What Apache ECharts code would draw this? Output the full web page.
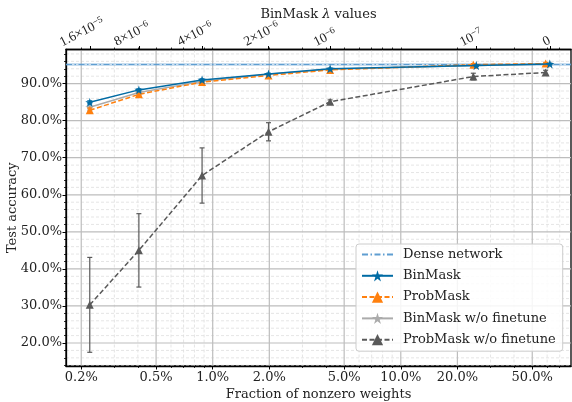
<!DOCTYPE html>
<html><head><meta charset="utf-8">
<script src="https://cdn.jsdelivr.net/npm/echarts@6/dist/echarts.min.js"></script>
<style>html,body{margin:0;padding:0;background:#fff}#c{width:572px;height:402px}</style>
</head><body><div id="c"></div>
<script>
// ---------- data ----------
const fracBinMask = [0.222, 0.405, 0.878, 1.98, 4.21, 25.2, 62.0];
const accBinMask = [84.96, 88.3, 91.0, 92.6, 94.0, 94.85, 95.3];
const errBinMask = [0.4, 0.3, 0.3, 0.2, 0.2, 0.2, 0.2];

const fracProbMask = [0.222, 0.405, 0.878, 1.98, 4.21, 24.3, 58.9];
const accProbMask = [82.8, 87.1, 90.4, 92.2, 93.7, 95.1, 95.4];
const errProbMask = [0.6, 0.4, 0.3, 0.3, 0.3, 0.3, 0.3];

const fracBinNoFt = [0.222, 0.405, 0.878, 1.98, 4.21, 25.2, 62.0];
const accBinNoFt = [83.6, 87.6, 90.6, 92.5, 93.9, 94.85, 95.3];
const errBinNoFt = [0.4, 0.3, 0.3, 0.2, 0.2, 0.2, 0.2];

const fracProbNoFt = [0.222, 0.405, 0.878, 1.98, 4.21, 24.3, 58.9];
const accProbNoFt = [30.3, 45.0, 65.2, 77.0, 85.1, 91.9, 93.0];
const errProbNoFt = [12.8, 9.9, 7.45, 2.45, 0.5, 0.9, 0.6];

const denseAcc = 95.15;
const denseStd = 0.4;

const xTickValues = [0.2, 0.5, 1, 2, 5, 10, 20, 50];
const xTickLabels = ['0.2%', '0.5%', '1.0%', '2.0%', '5.0%', '10.0%', '20.0%', '50.0%'];
const xMinorValues = [0.3, 0.4, 0.6, 0.7, 0.8, 0.9, 3, 4, 6, 7, 8, 9, 30, 40, 60, 70];
const lambdaMantissa = ['1.6×10', '8×10', '4×10', '2×10', '10', '10', '0'];
const lambdaExponent = ['−5', '−6', '−6', '−6', '−6', '−7', ''];

const yTickValues = [20, 30, 40, 50, 60, 70, 80, 90];
const yTickLabels = ['20.0%', '30.0%', '40.0%', '50.0%', '60.0%', '70.0%', '80.0%', '90.0%'];
const yMinorValues = [14, 16, 18, 22, 24, 26, 28, 32, 34, 36, 38, 42, 44, 46, 48, 52, 54, 56, 58, 62, 64, 66, 68, 72, 74, 76, 78, 82, 84, 86, 88, 92, 94, 96, 98];

// ---------- layout / style ----------
const X_MIN = -0.78, X_MAX = 1.905;
const Y_MIN = 13.8, Y_MAX = 99.2;
const FONT = 'DejaVu Serif';
const LFONT = 'Liberation Serif';
const C_BIN = '#006BA4', C_PROB = '#FF800E', C_BINNF = '#ABABAB', C_PROBNF = '#595959', C_DENSE = '#5F9ED1';
const STAR = 'path://M50,0 L61.17,34.63 L97.55,34.55 L68.07,55.87 L79.39,90.45 L50,69 L20.61,90.45 L31.93,55.87 L2.45,34.55 L38.83,34.63 Z';
// spacer (px) that lifts each rotated top label so all rotated boxes share one bottom line
const LAMBDA_LIFT = [10, 8, 8, 8, 4, 4, 0];
const lg = v => Math.log10(v);

function labelFrom(values, labels) {
  return function (v) {
    for (let i = 0; i < values.length; i++) if (Math.abs(values[i] - v) < 1e-6) return labels[i];
    return '';
  };
}
const lambdaLabels = lambdaMantissa.map((m, i) =>
  '{b|' + m + '}' + (lambdaExponent[i] ? '{sup|' + lambdaExponent[i] + '}' : '') +
  (LAMBDA_LIFT[i] ? '\n{g' + LAMBDA_LIFT[i] + '| }' : ''));
const liftRich = {};
LAMBDA_LIFT.forEach(h => { if (h) liftRich['g' + h] = { fontSize: 1, lineHeight: h, height: h }; });

function vLines(values, style) {
  return {
    type: 'custom', silent: true, z: 0, xAxisIndex: 0, yAxisIndex: 0,
    data: values.map(v => [lg(v), Y_MIN]), encode: { x: 0, y: 1 },
    renderItem: (params, api) => {
      const cs = params.coordSys;
      const x = api.coord([api.value(0), api.value(1)])[0];
      return { type: 'line', shape: { x1: x, y1: cs.y, x2: x, y2: cs.y + cs.height }, style };
    }
  };
}
function hLines(values, style) {
  return {
    type: 'custom', silent: true, z: 0, xAxisIndex: 0, yAxisIndex: 0,
    data: values.map(v => [X_MIN, v]), encode: { x: 0, y: 1 },
    renderItem: (params, api) => {
      const cs = params.coordSys;
      const y = api.coord([api.value(0), api.value(1)])[1];
      return { type: 'line', shape: { x1: cs.x, y1: y, x2: cs.x + cs.width, y2: y }, style };
    }
  };
}
function errorBars(fr, acc, err, color, z) {
  return {
    type: 'custom', silent: true, z, xAxisIndex: 0, yAxisIndex: 0,
    data: fr.map((f, i) => [lg(f), acc[i] - err[i], acc[i] + err[i]]),
    encode: { x: 0, y: [1, 2] },
    renderItem: (params, api) => {
      const lo = api.coord([api.value(0), api.value(1)]);
      const hi = api.coord([api.value(0), api.value(2)]);
      const w = 2.5;
      const style = { stroke: color, lineWidth: 1.2 };
      return {
        type: 'group', children: [
          { type: 'line', shape: { x1: lo[0], y1: lo[1], x2: hi[0], y2: hi[1] }, style },
          { type: 'line', shape: { x1: lo[0] - w, y1: lo[1], x2: lo[0] + w, y2: lo[1] }, style },
          { type: 'line', shape: { x1: hi[0] - w, y1: hi[1], x2: hi[0] + w, y2: hi[1] }, style }
        ]
      };
    }
  };
}
function lineSeries(name, fr, acc, color, dashed, symbol, size, z) {
  return {
    type: 'line', name, z, xAxisIndex: 0, yAxisIndex: 0,
    data: fr.map((f, i) => [lg(f), acc[i]]),
    symbol, symbolSize: size, showSymbol: true,
    lineStyle: { color, width: 1.5, type: dashed ? [5, 2.5] : 'solid' },
    itemStyle: { color, borderWidth: 0 },
    emphasis: { disabled: true }, animation: false
  };
}

const axisLabelStyle = { fontFamily: FONT, fontSize: 13, color: '#222' };
const baseX = {
  type: 'value', min: X_MIN, max: X_MAX, gridIndex: 0,
  splitLine: { show: false },
  axisLine: { show: true, onZero: false, lineStyle: { color: '#000', width: 1.3 } }
};

const option = {
  animation: false,
  backgroundColor: '#fff',
  grid: { left: 66, top: 49.5, right: 1, bottom: 36, show: true, borderColor: '#000', borderWidth: 1.3, containLabel: false, outerBoundsMode: 'none' },
  legend: {
    data: [
      { name: 'Dense network', itemStyle: { opacity: 0 } },
      'BinMask', 'ProbMask', 'BinMask w/o finetune', 'ProbMask w/o finetune'
    ],
    orient: 'vertical', left: 356, top: 244,
    itemWidth: 31, itemHeight: 14, itemGap: 8.3,
    padding: [4, 7, 5, 5],
    backgroundColor: 'rgba(255,255,255,0.85)', borderColor: '#cccccc', borderWidth: 1, borderRadius: 3,
    textStyle: { fontFamily: FONT, fontSize: 13, color: '#222', padding: [0, 0, 0, 5] },
    selectedMode: false
  },
  xAxis: [
    Object.assign({}, baseX, {
      position: 'bottom',
      name: 'Fraction of nonzero weights', nameLocation: 'middle', nameGap: 22, nameMoveOverlap: false,
      nameTextStyle: { fontFamily: FONT, fontSize: 13, color: '#222' },
      axisTick: { show: true, length: 3.5, customValues: xTickValues.map(lg), lineStyle: { color: '#000' } },
      axisLabel: Object.assign({ customValues: xTickValues.map(lg), margin: 5, interval: 0, hideOverlap: false, formatter: labelFrom(xTickValues.map(lg), xTickLabels) }, axisLabelStyle)
    }),
    Object.assign({}, baseX, {
      position: 'top',
      name: 'BinMask {i|λ} values', nameLocation: 'middle', nameGap: 28, nameMoveOverlap: false,
      nameTextStyle: { fontFamily: FONT, fontSize: 13, color: '#222', rich: { i: { fontFamily: FONT, fontSize: 13, fontStyle: 'italic', color: '#222' } } },
      axisTick: { show: true, length: 3.5, customValues: fracBinMask.map(lg), lineStyle: { color: '#000' } },
      axisLabel: Object.assign({}, axisLabelStyle, {
        customValues: fracBinMask.map(lg), rotate: -27, margin: 2, align: 'center', verticalAlign: 'bottom',
        interval: 0, hideOverlap: false, showMinLabel: true, showMaxLabel: true,
        formatter: labelFrom(fracBinMask.map(lg), lambdaLabels),
        rich: Object.assign({
          b: { fontFamily: LFONT, fontSize: 13.5, color: '#222', lineHeight: 15, verticalAlign: 'bottom' },
          sup: { fontFamily: LFONT, fontSize: 9.5, color: '#222', lineHeight: 10, verticalAlign: 'top' }
        }, liftRich)
      })
    }),
    Object.assign({}, baseX, {
      position: 'bottom', axisLine: { show: false, onZero: false },
      axisTick: { show: true, length: 2, customValues: xMinorValues.map(lg), lineStyle: { color: '#000', width: 0.8 } },
      axisLabel: { show: false }
    }),
    Object.assign({}, baseX, {
      position: 'top', axisLine: { show: false, onZero: false },
      axisTick: { show: true, length: 2, customValues: xMinorValues.concat(xTickValues).map(lg), lineStyle: { color: '#000', width: 0.8 } },
      axisLabel: { show: false }
    })
  ],
  yAxis: [
    {
      type: 'value', min: Y_MIN, max: Y_MAX, position: 'left',
      name: 'Test accuracy', nameLocation: 'middle', nameGap: 47, nameMoveOverlap: false,
      nameTextStyle: { fontFamily: FONT, fontSize: 13, color: '#222' },
      splitLine: { show: false },
      axisLine: { show: true, onZero: false, lineStyle: { color: '#000', width: 1.3 } },
      axisTick: { show: true, length: 3.5, customValues: yTickValues, lineStyle: { color: '#000' } },
      axisLabel: Object.assign({ customValues: yTickValues, margin: 4, interval: 0, formatter: labelFrom(yTickValues, yTickLabels) }, axisLabelStyle)
    },
    {
      type: 'value', min: Y_MIN, max: Y_MAX, position: 'left',
      splitLine: { show: false },
      axisLine: { show: false, onZero: false },
      axisTick: { show: true, length: 2, customValues: yMinorValues, lineStyle: { color: '#000', width: 0.8 } },
      axisLabel: { show: false }
    }
  ],
  series: [
    vLines(xMinorValues, { stroke: '#dedede', lineWidth: 0.8, lineDash: [3, 2] }),
    hLines(yMinorValues, { stroke: '#dedede', lineWidth: 0.8, lineDash: [3, 2] }),
    vLines(xTickValues, { stroke: '#bdbdbd', lineWidth: 1.2 }),
    hLines(yTickValues, { stroke: '#bdbdbd', lineWidth: 1.2 }),
    {
      type: 'custom', silent: true, z: 1, xAxisIndex: 0, yAxisIndex: 0,
      data: [[X_MIN, denseAcc - denseStd, denseAcc + denseStd, denseAcc]], encode: { x: 0, y: [1, 2, 3] },
      renderItem: (params, api) => {
        const cs = params.coordSys;
        const lo = api.coord([api.value(0), api.value(1)])[1];
        const hi = api.coord([api.value(0), api.value(2)])[1];
        const m = api.coord([api.value(0), api.value(3)])[1];
        return {
          type: 'group', children: [
            { type: 'rect', shape: { x: cs.x, y: hi, width: cs.width, height: lo - hi }, style: { fill: 'rgba(95,158,209,0.35)' } },
            { type: 'line', shape: { x1: cs.x, y1: m, x2: cs.x + cs.width, y2: m }, style: { stroke: C_DENSE, lineWidth: 1.2, lineDash: [6, 2.5, 1.5, 2.5] } }
          ]
        };
      }
    },
    {
      type: 'line', name: 'Dense network', data: [], symbol: 'none',
      lineStyle: { color: C_DENSE, width: 1.2, type: [6, 2.5, 1.5, 2.5] }, itemStyle: { color: C_DENSE }
    },
    lineSeries('BinMask w/o finetune', fracBinNoFt, accBinNoFt, C_BINNF, false, STAR, 9, 3),
    errorBars(fracBinNoFt, accBinNoFt, errBinNoFt, C_BINNF, 3),
    lineSeries('ProbMask w/o finetune', fracProbNoFt, accProbNoFt, C_PROBNF, true, 'triangle', 8, 4),
    errorBars(fracProbNoFt, accProbNoFt, errProbNoFt, C_PROBNF, 4),
    lineSeries('ProbMask', fracProbMask, accProbMask, C_PROB, true, 'triangle', 8, 5),
    errorBars(fracProbMask, accProbMask, errProbMask, C_PROB, 5),
    lineSeries('BinMask', fracBinMask, accBinMask, C_BIN, false, STAR, 9, 6),
    errorBars(fracBinMask, accBinMask, errBinMask, C_BIN, 6)
  ]
};

const chart = echarts.init(document.getElementById('c'), null, { renderer: 'canvas' });
chart.setOption(option);
</script>
</body></html>
